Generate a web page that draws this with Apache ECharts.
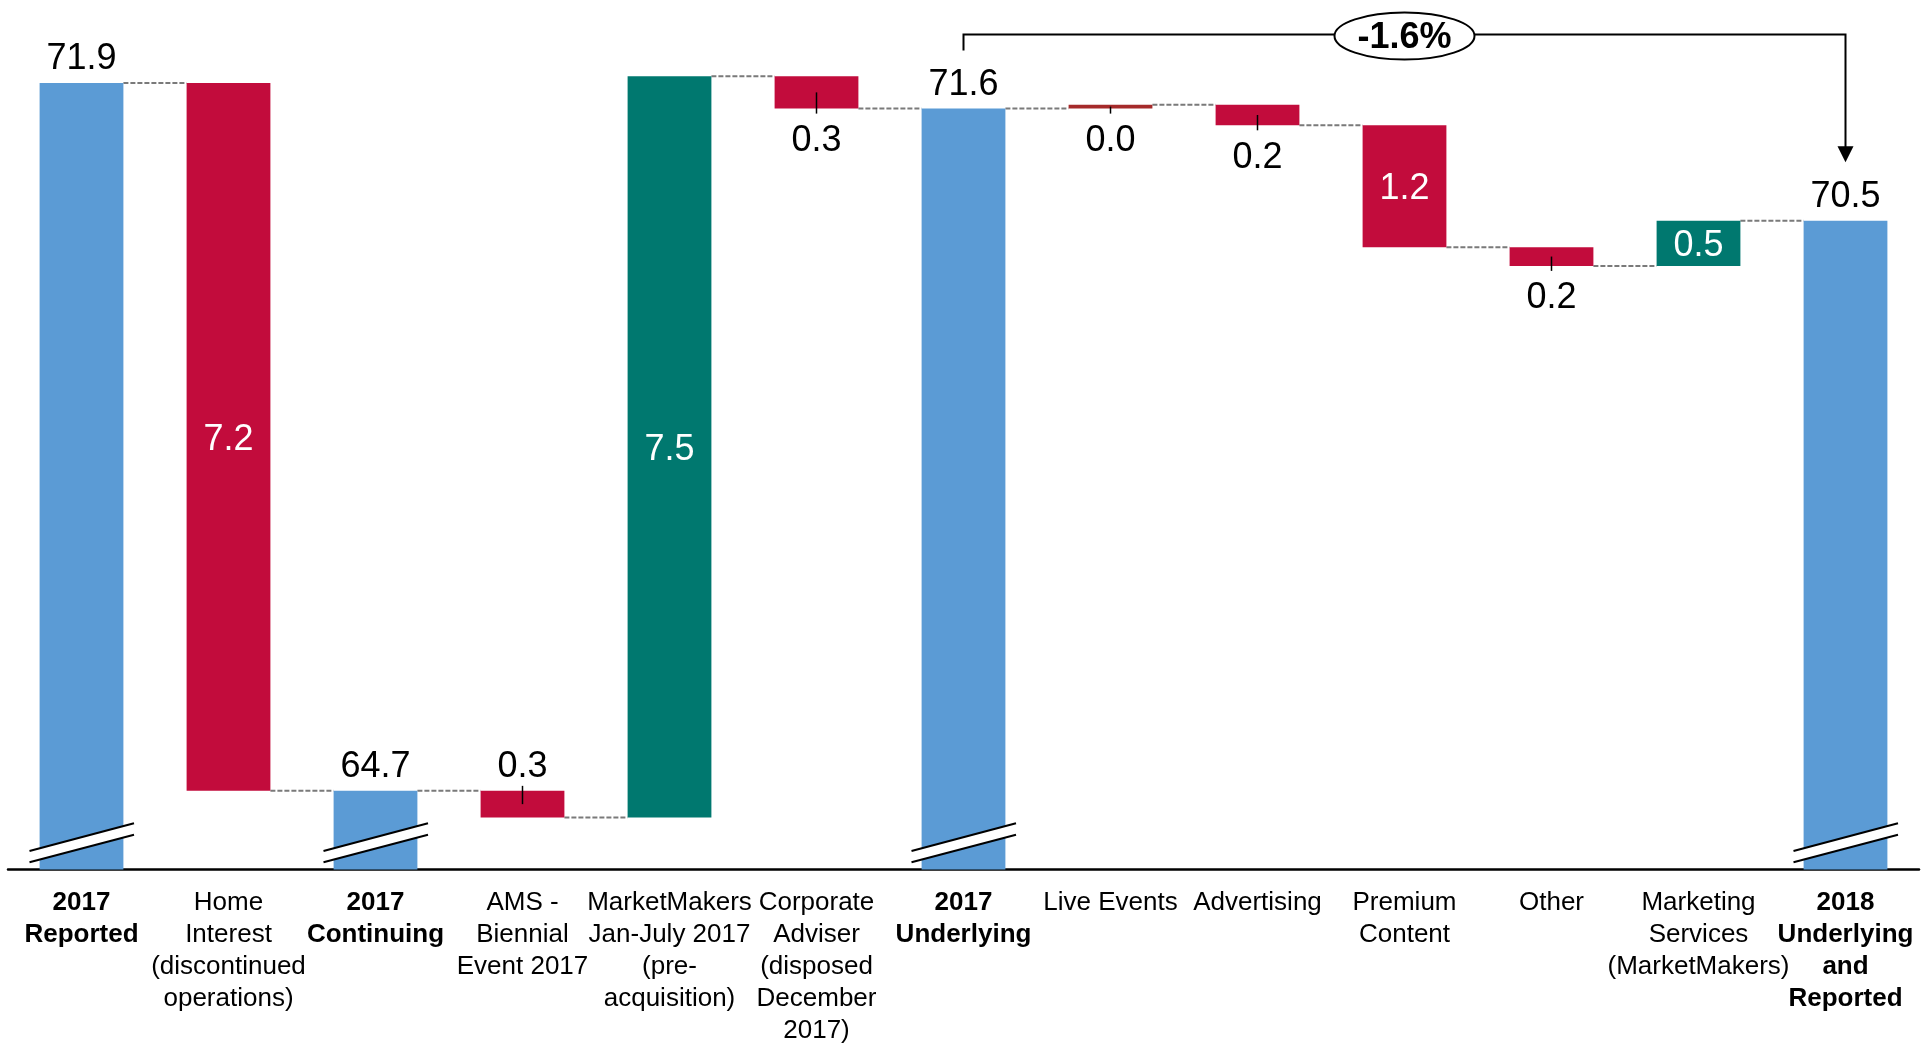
<!DOCTYPE html>
<html>
<head>
<meta charset="utf-8">
<title>Revenue bridge 2017 to 2018</title>
<script src="https://cdn.jsdelivr.net/npm/echarts@6/dist/echarts.min.js"></script>
<style>
  html, body { margin: 0; padding: 0; background: #ffffff; }
  #chart { width: 1926px; height: 1044px; }
</style>
</head>
<body>
<div id="chart"></div>
<script>
// ---- data ----
const categories = [
  '2017\nReported',
  'Home\nInterest\n(discontinued\noperations)',
  '2017\nContinuing',
  'AMS -\nBiennial\nEvent 2017',
  'MarketMakers\nJan-July 2017\n(pre-\nacquisition)',
  'Corporate\nAdviser\n(disposed\nDecember\n2017)',
  '2017\nUnderlying',
  'Live Events',
  'Advertising',
  'Premium\nContent',
  'Other',
  'Marketing\nServices\n(MarketMakers)',
  '2018\nUnderlying\nand\nReported'
];
// 'total' steps are absolute levels, 'delta' steps move the running level
const stepKinds = ['total', 'delta', 'total', 'delta', 'delta', 'delta', 'total',
                   'delta', 'delta', 'delta', 'delta', 'delta', 'total'];
const stepValues = [71.9, -7.2, 64.7, -0.27, 7.54, -0.33, 71.64,
                    0.04, -0.21, -1.24, -0.19, 0.46, 70.5];
const changeLabel = '-1.6%';
const changeFrom = 6;   // 2017 Underlying
const changeTo = 12;    // 2018 Underlying and Reported

// ---- styling ----
const FONT_FAMILY = '"Liberation Sans", Arial, Helvetica, sans-serif';
const COLORS = { total: '#5B9BD5', down: '#C20C3C', up: '#00786F', flat: '#A52A2A' };
const labelSpots = ['top', 'inside', 'top', 'top', 'inside', 'bottom', 'top',
                    'bottom', 'bottom', 'inside', 'bottom', 'inside', 'top'];
const flatSteps = [7];
const BAR_RATIO = 0.57;
const Y_MIN = 63.9, Y_MAX = 72.7;
const VALUE_FONT = '36px ' + FONT_FAMILY;
const TEXT_SHIFT = 3;   // glyph centring correction for value labels

// running levels: [low, high] span of each bar and the level after it
const spans = [];
const levelsAfter = [];
let level = 0;
stepValues.forEach((v, i) => {
  if (stepKinds[i] === 'total') {
    spans.push([Y_MIN, v]);
    level = v;
  } else {
    const next = level + v;
    spans.push([Math.min(level, next), Math.max(level, next)]);
    level = next;
  }
  levelsAfter.push(level);
});

const barData = spans.map((s, i) => [i, s[0], s[1]]);
const connectorData = levelsAfter.slice(0, -1).map((l, i) => [i, l]);
const breakData = stepKinds.map((k, i) => k === 'total' ? [i, Y_MIN] : null).filter(Boolean);

function barColor(i) {
  if (flatSteps.indexOf(i) >= 0) return COLORS.flat;
  if (stepKinds[i] === 'total') return COLORS.total;
  return stepValues[i] < 0 ? COLORS.down : COLORS.up;
}

function textEl(x, y, text, fill, font) {
  return {
    type: 'text', x: x, y: y, z2: 20,
    style: { text: text, fill: fill, font: font, align: 'center', verticalAlign: 'middle',
             textAlign: 'center', textVerticalAlign: 'middle' }
  };
}

function renderBar(params, api) {
  const i = api.value(0);
  const pTop = api.coord([i, api.value(2)]);
  const pBot = api.coord([i, api.value(1)]);
  const w = api.size([1, 0])[0] * BAR_RATIO;
  const cx = pTop[0];
  const top = pTop[1], bottom = pBot[1];
  const children = [{
    type: 'rect',
    shape: { x: cx - w / 2, y: top, width: w, height: Math.max(bottom - top, 1) },
    style: { fill: barColor(i) }
  }];
  const txt = Math.abs(stepValues[i]).toFixed(1);
  const spot = labelSpots[i];
  if (spot === 'inside') {
    children.push(textEl(cx, (top + bottom) / 2 + TEXT_SHIFT, txt, '#ffffff', VALUE_FONT));
  } else if (spot === 'top') {
    children.push(textEl(cx, top - 26.5 + TEXT_SHIFT, txt, '#000000', VALUE_FONT));
  } else {
    children.push(textEl(cx, bottom + 29.5 + TEXT_SHIFT, txt, '#000000', VALUE_FONT));
  }
  // leader tick from the middle of a small step bar towards its label
  if (stepKinds[i] === 'delta' && spot !== 'inside') {
    const mid = (top + bottom) / 2;
    children.push({
      type: 'line', z2: 15,
      shape: { x1: cx, y1: mid, x2: cx, y2: spot === 'top' ? top - 5 : bottom + 5 },
      style: { stroke: '#000000', lineWidth: 1.5 }
    });
  }
  return { type: 'group', children: children };
}

function renderConnector(params, api) {
  const i = api.value(0);
  const lvl = api.value(1);
  const halfW = api.size([1, 0])[0] * BAR_RATIO / 2;
  const a = api.coord([i, lvl]);
  const b = api.coord([i + 1, lvl]);
  return {
    type: 'line',
    shape: { x1: a[0] + halfW, y1: a[1], x2: b[0] - halfW, y2: b[1] },
    style: { stroke: '#7A7A7A', lineWidth: 2, lineDash: [5, 2] }
  };
}

// "//" axis break drawn across the foot of each total bar
function renderBreak(params, api) {
  const p = api.coord([api.value(0), api.value(1)]);
  const cx = p[0], ay = p[1];
  const l = cx - 52, r = cx + 52.5;
  const upper = [[l, ay - 18.5], [r, ay - 46.2]];
  const lower = [[l, ay - 7.2], [r, ay - 34.8]];
  return {
    type: 'group', children: [
      { type: 'polygon', shape: { points: [upper[0], upper[1], lower[1], lower[0]] },
        style: { fill: '#ffffff' } },
      { type: 'line', shape: { x1: upper[0][0], y1: upper[0][1], x2: upper[1][0], y2: upper[1][1] },
        style: { stroke: '#000000', lineWidth: 2 } },
      { type: 'line', shape: { x1: lower[0][0], y1: lower[0][1], x2: lower[1][0], y2: lower[1][1] },
        style: { stroke: '#000000', lineWidth: 2 } }
    ]
  };
}

// bracket with the percentage change between two totals
function renderChange(params, api) {
  const a = api.coord([api.value(0), api.value(1)]);
  const b = api.coord([api.value(2), api.value(3)]);
  const lineY = 34.5;
  const leftEnd = a[1] - 58;
  const tipY = b[1] - 58.5;
  const midX = (a[0] + b[0]) / 2;
  return {
    type: 'group', children: [
      { type: 'polyline',
        shape: { points: [[a[0], leftEnd], [a[0], lineY], [b[0], lineY], [b[0], tipY - 14]] },
        style: { stroke: '#000000', lineWidth: 2, fill: null } },
      { type: 'polygon',
        shape: { points: [[b[0] - 8, tipY - 16], [b[0] + 8, tipY - 16], [b[0], tipY]] },
        style: { fill: '#000000' } },
      { type: 'ellipse', shape: { cx: midX, cy: lineY + 1.5, rx: 70, ry: 23.5 },
        style: { fill: '#ffffff', stroke: '#000000', lineWidth: 2 } },
      textEl(midX, lineY + 1 + TEXT_SHIFT, changeLabel, '#000000', 'bold 36px ' + FONT_FAMILY)
    ]
  };
}

const chart = echarts.init(document.getElementById('chart'), null, { renderer: 'canvas' });
chart.setOption({
  animation: false,
  backgroundColor: '#ffffff',
  grid: { left: 8, right: 7, top: 4.4, bottom: 174.5, containLabel: false, outerBoundsMode: 'none' },
  xAxis: {
    type: 'category',
    data: categories.map((c, i) => ({
      value: c,
      textStyle: { fontWeight: stepKinds[i] === 'total' ? 'bold' : 'normal' }
    })),
    boundaryGap: true,
    axisLine: { show: true, lineStyle: { color: '#000000', width: 2.5 } },
    axisTick: { show: false },
    axisLabel: {
      interval: 0, margin: 17.5, color: '#000000',
      fontFamily: FONT_FAMILY, fontSize: 26, lineHeight: 32, align: 'center'
    },
    splitLine: { show: false }
  },
  yAxis: {
    type: 'value', min: Y_MIN, max: Y_MAX, show: false,
    splitLine: { show: false }
  },
  series: [
    { type: 'custom', name: 'connectors', renderItem: renderConnector, data: connectorData,
      encode: { x: 0, y: 1 }, z: 1, silent: true },
    { type: 'custom', name: 'steps', renderItem: renderBar, data: barData,
      encode: { x: 0, y: [1, 2] }, z: 2, silent: true },
    { type: 'custom', name: 'breaks', renderItem: renderBreak, data: breakData,
      encode: { x: 0, y: 1 }, z: 3, silent: true },
    { type: 'custom', name: 'change', renderItem: renderChange,
      data: [[changeFrom, stepValues[changeFrom], changeTo, stepValues[changeTo]]],
      encode: { x: 0, y: 1 }, z: 4, silent: true }
  ]
});
</script>
</body>
</html>
